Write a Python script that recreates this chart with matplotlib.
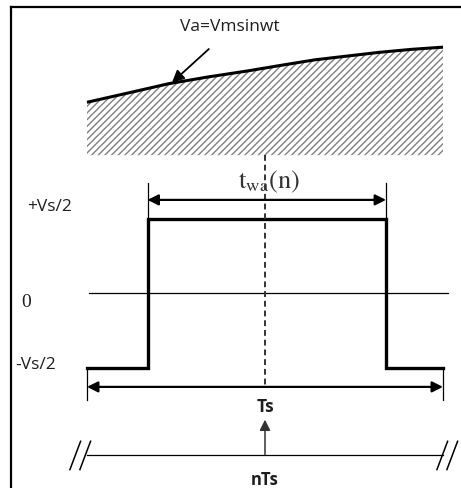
import matplotlib
matplotlib.use("Agg")
import matplotlib.pyplot as plt
import numpy as np

# time in units of Ts, voltage in units of Vs/2
pulse_t = [0.0, 0.17, 0.17, 0.84, 0.84, 1.0]
pulse_v = [-1, -1, 1, 1, -1, -1]

# reference wave Va = Vm sin(wt)
va_t = [0.0, 0.12, 0.23, 0.34, 0.45, 0.55, 0.64, 0.73, 0.82, 0.91, 1.0]
va_v = [2.56, 2.69, 2.81, 2.90, 2.98, 3.06, 3.13, 3.18, 3.23, 3.27, 3.30]
hatch_floor = 1.85

level_labels = ["+Vs/2", "0", "-Vs/2"]
level_values = [1.15, -0.13, -0.97]

t_center = 0.5
nts_level = -2.17

plt.rcParams['mathtext.fontset'] = 'stix'
fig = plt.figure(figsize=(4.61, 4.88), dpi=100)
ax = fig.add_axes([11 / 461, 0, 450 / 461, 481 / 488])
ax.set_xlim(-0.2135, 1.0506)
ax.set_ylim(-2.617, 3.839)
ax.set_xticks([])
ax.set_yticks([])
ax.spines['right'].set_visible(False)
ax.spines['bottom'].set_visible(False)
ax.spines['left'].set_linewidth(1.6)
ax.spines['top'].set_linewidth(1.6)

txt = '#1e1e1e'
sans = 'Open Sans'
fs = 12.5

# hatched area under the sine
plt.rcParams['hatch.color'] = '#808080'
plt.rcParams['hatch.linewidth'] = 1.0
ax.fill_between(va_t, va_v, hatch_floor, facecolor='white', hatch='/////', linewidth=0)
ax.plot(va_t, va_v, color='black', lw=2.2, solid_capstyle='butt')
ax.annotate('', xy=(0.233, 2.80), xytext=(0.348, 3.30),
            arrowprops=dict(arrowstyle='-|>', color='black', lw=1.3, mutation_scale=18))
ax.text(0.402, 3.57, 'Va=Vmsinwt', ha='center', va='center', fontsize=fs, family=sans, color=txt)

# pulse
ax.plot(pulse_t, pulse_v, color='black', lw=2.4, solid_joinstyle='miter')
ax.plot([0.005, 1.014], [0, 0], color='black', lw=0.9)
ax.plot([t_center, t_center], [hatch_floor, -1.23], color='#333333', lw=1.4, ls=(0, (3, 2)))

# pulse width dimension
ax.plot([pulse_t[1]] * 2, [1.0, 1.48], color='black', lw=0.9)
ax.plot([pulse_t[3]] * 2, [1.0, 1.48], color='black', lw=0.9)
ax.annotate('', xy=(pulse_t[1], 1.25), xytext=(pulse_t[3], 1.25),
            arrowprops=dict(arrowstyle='<|-|>', color='black', lw=1.6, mutation_scale=16, shrinkA=0, shrinkB=0))
ax.text(t_center + 0.01, 1.49, r'$\mathrm{t_{wa}(n)}$', ha='center', va='center', fontsize=19, color='#333333')

# period dimension
ax.plot([pulse_t[0]] * 2, [-1.0, -1.44], color='black', lw=0.9)
ax.plot([pulse_t[-1]] * 2, [-1.0, -1.44], color='black', lw=0.9)
ax.annotate('', xy=(pulse_t[0], -1.26), xytext=(pulse_t[-1], -1.26),
            arrowprops=dict(arrowstyle='<|-|>', color='black', lw=1.6, mutation_scale=16, shrinkA=0, shrinkB=0))
ax.text(t_center, -1.53, 'Ts', ha='center', va='center', fontsize=fs, family=sans,
        fontweight='bold', color=txt)

# time axis with nTs marker
ax.plot([0, 1], [nts_level, nts_level], color='black', lw=0.9)
ax.annotate('', xy=(t_center, -1.70), xytext=(t_center, nts_level),
            arrowprops=dict(arrowstyle='-|>', color='#333333', lw=1.1, mutation_scale=16, shrinkA=0, shrinkB=0))
ax.text(t_center, -2.515, 'nTs', ha='center', va='center', fontsize=12, family=sans,
        fontweight='bold', color=txt)
for x0 in [-0.048, -0.020, 0.983, 1.011]:
    ax.plot([x0, x0 + 0.03], [-2.37, -1.99], color='black', lw=1.1)

# level labels
for lab, v in zip(level_labels, level_values):
    if lab == "0":
        ax.text(-0.186, v, lab, ha='left', va='center', fontsize=14, family='Liberation Serif', color=txt)
    else:
        ax.text(-0.202 if lab.startswith('-') else -0.168, v, lab, ha='left', va='center',
                fontsize=fs, family=sans, color=txt)

fig.savefig('out.png', dpi=100)
